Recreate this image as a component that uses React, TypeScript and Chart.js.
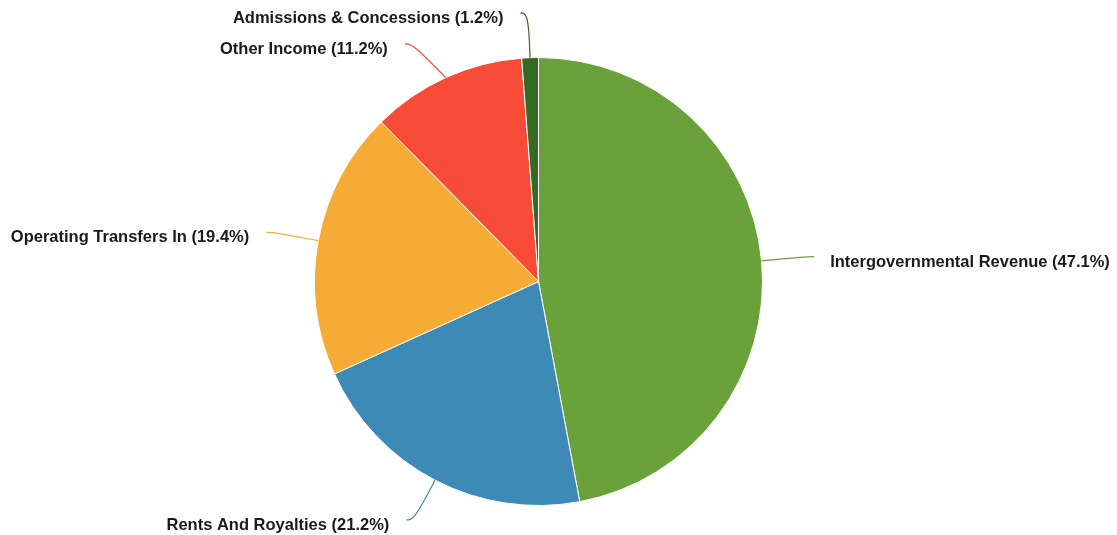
import React, { useEffect, useRef } from "react";
import { Chart, registerables } from "chart.js";

Chart.register(...registerables);

const categories = [
  "Intergovernmental Revenue",
  "Rents And Royalties",
  "Operating Transfers In",
  "Other Income",
  "Admissions & Concessions",
];
const shares = [47.1, 21.2, 19.4, 11.2, 1.2];
const colors = ["#6aa13a", "#3c8ab5", "#f7ab37", "#f84b37", "#346a22"];

type Pt = { x: number; y: number };

const labelPlugin = {
  id: "leaderLabels",
  afterDraw(chart: any) {
    const ctx: CanvasRenderingContext2D = chart.ctx;
    const meta = chart.getDatasetMeta(0);
    const items: any[] = [];
    meta.data.forEach((arc: any, i: number) => {
      const { x, y, startAngle, endAngle, outerRadius } = arc.getProps(
        ["x", "y", "startAngle", "endAngle", "outerRadius"],
        true
      );
      const mid = (startAngle + endAngle) / 2;
      const r = outerRadius;
      const R1 = r * 1.2;
      const p0 = { x: x + Math.cos(mid) * r, y: y + Math.sin(mid) * r };
      const p1 = { x: x + Math.cos(mid) * R1, y: y + Math.sin(mid) * R1 };
      const left = p1.x < x;
      items.push({ i, cx: x, cy: y, R1, p0, p1, left, mid });
    });
    const gap = 31;
    [true, false].forEach((side) => {
      const s = items.filter((it) => it.left === side).sort((a, b) => a.p1.y - b.p1.y);
      for (let k = 1; k < s.length; k++) {
        const prev = s[k - 1];
        const cur = s[k];
        if (cur.p1.y - prev.p1.y < gap) {
          const ny = prev.p1.y + gap;
          const dy = ny - cur.cy;
          const dx = Math.sqrt(Math.max(cur.R1 * cur.R1 - dy * dy, 0));
          cur.p1 = { x: cur.cx + (cur.left ? -dx : dx), y: ny };
        }
      }
    });
    ctx.save();
    items.forEach((it) => {
      const p0: Pt = it.p0;
      const p1: Pt = it.p1;
      const p2: Pt = { x: p1.x + (it.left ? -8 : 8), y: p1.y };
      const c = colors[it.i];
      ctx.strokeStyle = c;
      ctx.lineWidth = 1.2;
      ctx.beginPath();
      ctx.moveTo(p0.x, p0.y);
      ctx.lineTo((5 * p0.x + p1.x) / 6, (5 * p0.y + p1.y) / 6);
      ctx.bezierCurveTo(
        (2 * p0.x + p1.x) / 3, (2 * p0.y + p1.y) / 3,
        (p0.x + 2 * p1.x) / 3, (p0.y + 2 * p1.y) / 3,
        (p0.x + 4 * p1.x + p2.x) / 6, (p0.y + 4 * p1.y + p2.y) / 6
      );
      ctx.bezierCurveTo(
        (2 * p1.x + p2.x) / 3, (2 * p1.y + p2.y) / 3,
        (p1.x + 2 * p2.x) / 3, (p1.y + 2 * p2.y) / 3,
        (p1.x + 5 * p2.x) / 6, (p1.y + 5 * p2.y) / 6
      );
      ctx.lineTo(p2.x, p2.y);
      ctx.stroke();
      ctx.fillStyle = "#1a1a1a";
      ctx.font = "bold 16.5px 'Liberation Sans', Arial, Helvetica, sans-serif";
      ctx.textBaseline = "alphabetic";
      const text = `${categories[it.i]} (${shares[it.i].toFixed(1)}%)`;
      if (it.left) {
        ctx.textAlign = "right";
        ctx.fillText(text, p2.x - 17, p2.y + 10);
      } else {
        ctx.textAlign = "left";
        ctx.fillText(text, p2.x + 16, p2.y + 10);
      }
    });
    ctx.restore();
  },
};

export default function App() {
  const ref = useRef<HTMLCanvasElement | null>(null);
  useEffect(() => {
    if (!ref.current) return;
    const chart = new Chart(ref.current, {
      type: "pie",
      data: {
        labels: categories,
        datasets: [
          {
            data: shares,
            backgroundColor: colors,
            borderColor: "#ffffff",
            borderWidth: 1,
          },
        ],
      },
      options: {
        responsive: false,
        animation: false,
        layout: { padding: { top: 57, bottom: 29, left: 314, right: 354 } },
        plugins: {
          legend: { display: false },
          tooltip: { enabled: false },
        },
      },
      plugins: [labelPlugin],
    });
    return () => chart.destroy();
  }, []);
  return (
    <canvas
      ref={ref}
      width={1117}
      height={535}
      style={{ position: "absolute", left: 0, top: 0, width: 1117, height: 535 }}
    />
  );
}
